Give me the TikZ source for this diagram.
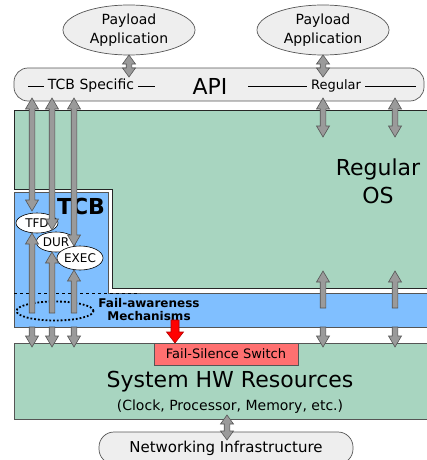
\documentclass[tikz,border=0pt]{standalone}
\usepackage{fontspec}
\setmainfont{DejaVu Sans}
\usetikzlibrary{calc,shapes.geometric}

\definecolor{osgreen}{HTML}{A8D5C0}
\definecolor{tcbblue}{HTML}{80BFFF}
\definecolor{softgray}{HTML}{EEEEEE}
\definecolor{arrowgray}{HTML}{9A9A9A}
\definecolor{edgegray}{HTML}{555555}
\definecolor{switchred}{HTML}{FF7070}

% dimensions of the block arrows: half shaft width, half head width, head length
\def\fatw{2.8pt}\def\fath{6.5pt}\def\fatl{11pt}

\tikzset{
  fatdims/.code args={#1/#2/#3}{\def\fatw{#1}\def\fath{#2}\def\fatl{#3}},
  fatbase/.style={fill=arrowgray, draw=edgegray, line width=0.6pt, line join=miter},
  % block arrow with heads at both ends
  fatboth/.style={fatbase, to path={
      (\tikztostart)
      -- ($(\tikztostart)!\fatl!(\tikztotarget)!\fath!90:(\tikztotarget)$)
      -- ($(\tikztostart)!\fatl!(\tikztotarget)!\fatw!90:(\tikztotarget)$)
      -- ($(\tikztotarget)!\fatl!(\tikztostart)!\fatw!-90:(\tikztostart)$)
      -- ($(\tikztotarget)!\fatl!(\tikztostart)!\fath!-90:(\tikztostart)$)
      -- (\tikztotarget)
      -- ($(\tikztotarget)!\fatl!(\tikztostart)!\fath!90:(\tikztostart)$)
      -- ($(\tikztotarget)!\fatl!(\tikztostart)!\fatw!90:(\tikztostart)$)
      -- ($(\tikztostart)!\fatl!(\tikztotarget)!\fatw!-90:(\tikztotarget)$)
      -- ($(\tikztostart)!\fatl!(\tikztotarget)!\fath!-90:(\tikztotarget)$)
      -- cycle}},
  % block arrow with a head at the target end only
  fatone/.style={fatbase, to path={
      ($(\tikztostart)!\fatw!90:(\tikztotarget)$)
      -- ($(\tikztotarget)!\fatl!(\tikztostart)!\fatw!-90:(\tikztostart)$)
      -- ($(\tikztotarget)!\fatl!(\tikztostart)!\fath!-90:(\tikztostart)$)
      -- (\tikztotarget)
      -- ($(\tikztotarget)!\fatl!(\tikztostart)!\fath!90:(\tikztostart)$)
      -- ($(\tikztotarget)!\fatl!(\tikztostart)!\fatw!90:(\tikztostart)$)
      -- ($(\tikztostart)!\fatw!-90:(\tikztotarget)$)
      -- cycle}},
  shortfat/.style={fatboth, fatdims={2.8pt/6.5pt/9pt}},
  softbox/.style={draw=edgegray, fill=softgray, line width=0.7pt},
  oval/.style={ellipse, draw=black, fill=white, inner sep=0pt, line width=0.6pt,
    font=\fontsize{12}{14}\selectfont},
  big/.style={font=\fontsize{22}{28}\selectfont},
}

\begin{document}
\begin{tikzpicture}[x=1pt,y=-1pt]
\useasboundingbox (0,0) rectangle (426,460);

% ---------- payload applications ----------
\node[softbox, ellipse, minimum width=132, minimum height=50, inner sep=0pt, align=center,
      font=\fontsize{14}{19}\selectfont] (pl) at (129,30) {Payload\\Application};
\node[softbox, ellipse, minimum width=132, minimum height=50, inner sep=0pt, align=center,
      font=\fontsize{14}{19}\selectfont] (pr) at (323,30) {Payload\\Application};

% ---------- API bar ----------
\node[softbox, rounded corners=14, minimum width=410, minimum height=33, inner sep=0pt]
      (api) at (219,84.5) {};
\node[big] (apitxt) at (210,86) {API};
\node[font=\fontsize{14}{16}\selectfont, inner sep=4pt] (tcbs) at (91,86) {TCB Specific};
\node[font=\fontsize{13}{15}\selectfont, inner sep=4pt] (regs) at (336,86) {Regular};
\draw[line width=0.7pt] (tcbs.west) -- (28,86);
\draw[line width=0.7pt] (tcbs.east) -- (155,86);
\draw[line width=0.7pt] (regs.west) -- (248,86);
\draw[line width=0.7pt] (regs.east) -- (416,86);

% ---------- regular OS (L-shaped region) ----------
\path[draw=black!85, fill=osgreen, line width=0.8pt]
  (14,110) -- (428,110) -- (428,288) -- (112,288) -- (112,189) -- (14,189) -- cycle;
\node[big, align=center] (os) at (378,181) {Regular\\OS};

% ---------- TCB and fail-awareness layer ----------
\path[draw=edgegray, fill=tcbblue, line width=0.7pt]
  (14,192) -- (108,192) -- (108,293) -- (428,293) -- (428,327) -- (14,327) -- cycle;
\draw[dashed, line width=0.8pt] (14,293) -- (140,293);
\node[font=\fontsize{22}{26}\selectfont\bfseries] (tcb) at (81,206) {TCB};
\node[oval, minimum width=42, minimum height=20] (tfd) at (37,223) {TFD};
\node[oval, minimum width=40, minimum height=20] (dur) at (56,242) {DUR};
\node[oval, minimum width=46, minimum height=24] (exe) at (80,258) {EXEC};
\node[ellipse, draw=black, dotted, line width=1.8pt, minimum width=77, minimum height=19]
      (fam) at (55,311) {};
\node[font=\fontsize{12}{13}\selectfont\bfseries, align=center] (famtxt) at (149,310)
      {Fail-awareness\\Mechanisms};

% ---------- hardware ----------
\node[draw=edgegray, fill=osgreen, line width=0.8pt, minimum width=414, minimum height=76,
      inner sep=0pt] (hw) at (221,381) {};
\node[big] (hwtxt) at (230,382) {System HW Resources};
\node[font=\fontsize{14}{16}\selectfont] (hwsub) at (230,407) {(Clock, Processor, Memory, etc.)};
\node[draw=edgegray, fill=switchred, line width=0.7pt, minimum width=144, minimum height=22,
      inner sep=0pt, font=\fontsize{13}{15}\selectfont] (fss) at (226,354) {Fail-Silence Switch};

% ---------- network ----------
\node[softbox, rounded corners=15, minimum width=254, minimum height=32, inner sep=0pt,
      font=\fontsize{15}{17}\selectfont] (net) at (226,448) {Networking Infrastructure};

% ---------- arrow end points ----------
\foreach \c/\x in {a/32,b/52,c/74,r/323,s/395} {
  \coordinate (\c top) at (\x,98);
  \coordinate (\c low) at (\x,327);
  \coordinate (\c hw)  at (\x,347);
}
\coordinate (afd) at (32,211);  \coordinate (afu) at (32,313); \coordinate (afe) at (32,233);
\coordinate (bfd) at (52,230);  \coordinate (bfu) at (52,313); \coordinate (bfe) at (52,252);
\coordinate (cfd) at (74,246);  \coordinate (cfu) at (74,313); \coordinate (cfe) at (74,270);
\coordinate (ros) at (323,137); \coordinate (sos) at (395,137);
\coordinate (rup) at (323,308); \coordinate (rue) at (323,271);
\coordinate (sup) at (395,308); \coordinate (sue) at (395,271);
\coordinate (plb) at (129,55);  \coordinate (pla) at (129,77);
\coordinate (prb) at (323,55);  \coordinate (pra) at (323,77);
\coordinate (hwb) at (227,415); \coordinate (neta) at (227,440);
\coordinate (sws) at (175,320); \coordinate (swe) at (175,343);

% ---------- block arrows ----------
\path[shortfat] (plb) to (pla);
\path[shortfat] (prb) to (pra);
\path[fatboth] (atop) to (afd);
\path[fatboth] (btop) to (bfd);
\path[fatboth] (ctop) to (cfd);
\path[fatboth] (rtop) to (ros);
\path[fatboth] (stop) to (sos);
\path[fatone] (afu) to (afe);
\path[fatone] (bfu) to (bfe);
\path[fatone] (cfu) to (cfe);
\path[fatone] (rup) to (rue);
\path[fatone] (sup) to (sue);
\foreach \c in {a,b,c,r,s} { \path[fatone] (\c low) to (\c hw); }
\path[shortfat] (hwb) to (neta);
\path[fatone, fatdims={4pt/8.5pt/11pt}, fill=red, draw=red!70!black] (sws) to (swe);
\end{tikzpicture}
\end{document}
